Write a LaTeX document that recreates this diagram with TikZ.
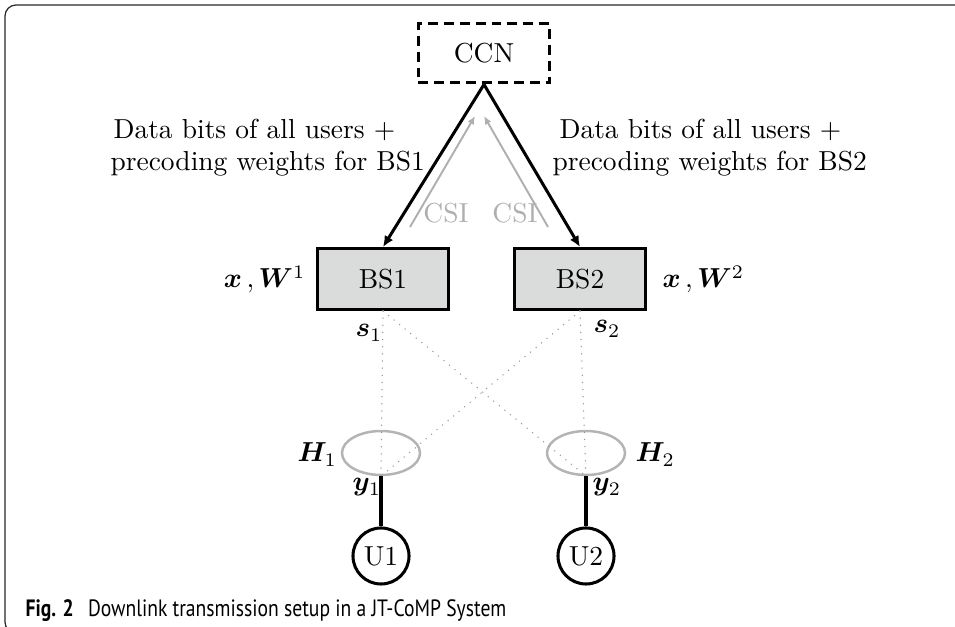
\documentclass[tikz,border=0pt]{standalone}
\usepackage{fontspec}
\usepackage{bm}
\usetikzlibrary{arrows.meta,shapes.geometric}
\newfontfamily\capfont[FakeStretch=0.83]{PT Sans}
\definecolor{bsgray}{RGB}{218,220,220}
\definecolor{csigray}{RGB}{175,175,175}
\definecolor{ellgray}{RGB}{180,180,180}
\definecolor{dotgray}{RGB}{150,150,150}
\tikzset{
  ccnbox/.style={draw, dash pattern=on 3.6pt off 2.2pt, line width=1.1pt, minimum width=47.7pt, minimum height=21.8pt, inner sep=0pt},
  bsbox/.style={draw, line width=1.1pt, fill=bsgray, minimum width=48pt, minimum height=22.2pt, inner sep=0pt},
  chan/.style={draw=ellgray, line width=0.9pt, ellipse, minimum width=28.4pt, minimum height=16pt, inner sep=0pt},
  ue/.style={draw, line width=1.1pt, circle, minimum size=20.4pt, inner sep=0pt},
  fwd/.style={line width=1.1pt, -{Latex[length=4pt,width=3.6pt]}},
  fb/.style={draw=csigray, line width=0.7pt, -{Latex[length=3pt,width=2.6pt]}},
  csilab/.style={text=csigray, inner sep=0pt},
  radio/.style={dotgray, line width=0.55pt, line cap=round, dash pattern=on 0pt off 2.6pt},
  lbl/.style={inner sep=0pt},
  userline/.style={line width=1.1pt}
}
\begin{document}
\begin{tikzpicture}[x=0.364pt,y=-0.364pt]
\useasboundingbox (0,0) rectangle (955,627);
% frame
\draw[line width=0.45pt, black!85, rounded corners=4pt] (975,5) -- (5,5) -- (5,633) -- (40,633);

\node[ccnbox] (ccn) at (484,53) {CCN};
\node[bsbox] (bs1) at (383,279) {BS1};
\node[bsbox] (bs2) at (580,279) {BS2};

\draw[fwd] (ccn.south) -- (bs1.north);
\draw[fwd] (ccn.south) -- (bs2.north);

\coordinate (f1s) at (410,227);
\coordinate (f1e) at (475,116);
\coordinate (f2s) at (548,227);
\coordinate (f2e) at (484,116);
\draw[fb] (f1s) -- (f1e);
\draw[fb] (f2s) -- (f2e);
\node[csilab] (csi1) at (446,213) {CSI};
\node[csilab] (csi2) at (515,213) {CSI};

\node[lbl, anchor=base west] (t1a) at (113,139) {Data bits of all users $+$};
\node[lbl, anchor=base west] (t1b) at (110,171) {precoding weights for BS1};
\node[lbl, anchor=base west] (t2a) at (559,139) {Data bits of all users $+$};
\node[lbl, anchor=base west] (t2b) at (552,171) {precoding weights for BS2};

\node[lbl, anchor=base east] (w1) at (306,288) {$\bm{x}\,,\bm{W}^1$};
\node[lbl, anchor=base west] (w2) at (662,288) {$\bm{x}\,,\bm{W}^2$};

\node[lbl, anchor=base west] (s1) at (355,337) {$\bm{s}_1$};
\node[lbl, anchor=base west] (s2) at (593,333) {$\bm{s}_2$};

\node[chan] (h1) at (381,453) {};
\node[chan] (h2) at (586,453) {};
\node[lbl, anchor=base west] (h1l) at (297,462) {$\bm{H}_1$};
\node[lbl, anchor=base west] (h2l) at (635,462) {$\bm{H}_2$};

\draw[radio] (bs1.south) -- (h1.south);
\draw[radio] (bs1.south) -- (h2.south);
\draw[radio] (bs2.south) -- (h2.south);
\draw[radio] (bs2.south) -- (h1.south);

\node[ue] (u1) at (381,556) {U1};
\node[ue] (u2) at (586,556) {U2};
\draw[userline] (h1.south) -- (u1.north);
\draw[userline] (h2.south) -- (u2.north);
\node[lbl, anchor=base west] (y1) at (352,491) {$\bm{y}_1$};
\node[lbl, anchor=base west] (y2) at (592,491) {$\bm{y}_2$};

\node[lbl, anchor=base west, font=\capfont\fontsize{8.6}{10}\selectfont] (cap) at (25,617) {\textbf{Fig. 2}\hspace{0.6em}Downlink transmission setup in a JT-CoMP System};
\end{tikzpicture}
\end{document}
